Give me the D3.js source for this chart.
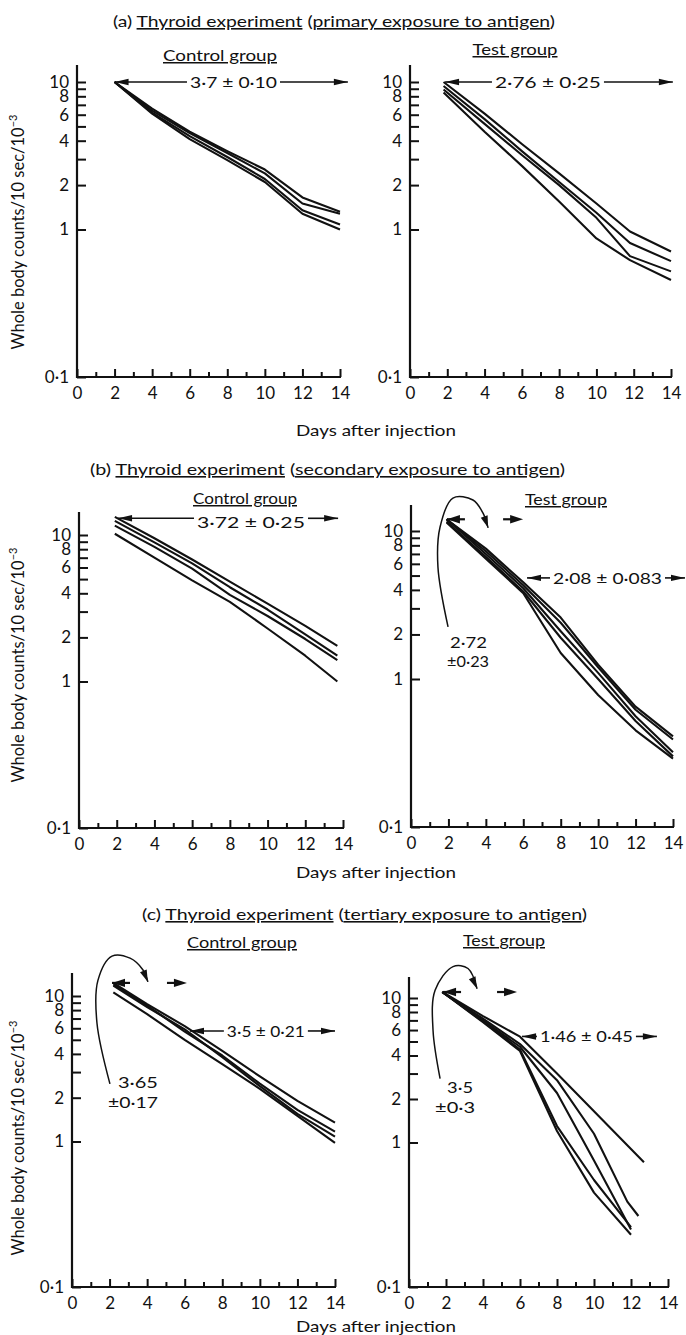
<!DOCTYPE html>
<html>
<head>
<meta charset="utf-8">
<script src="https://cdn.jsdelivr.net/npm/d3@7"></script>
<style>
  body { margin: 0; background: #fff; }
  svg { display: block; }
  text { font-family: Lato, "DejaVu Sans", sans-serif; fill: #111; }
  .tick text { font-size: 17px; }
  .title { font-size: 16px; }
  .group { font-size: 15px; }
  .note { font-size: 15px; }
  .ylab { font-size: 16.5px; }
  .xlab { font-size: 15px; }
</style>
</head>
<body>
<svg id="fig" width="686" height="1335"></svg>
<script>
// axis ticks
const dayTicks = [0, 2, 4, 6, 8, 10, 12, 14];
const minorDays = [1, 3, 5, 7, 9, 11, 13];
const countTicks = [0.1, 1, 2, 3, 4, 5, 6, 7, 8, 9, 10];
const countLabels = { 0.1: "0·1", 1: "1", 2: "2", 4: "4", 6: "6", 8: "8", 10: "10" };

// (a) primary exposure - whole body counts / 10 sec / 10^-3
const daysPrimaryControl = [2, 4, 6, 8, 10, 12, 14];
const primaryControl = [
  [10, 6.6, 4.6, 3.4, 2.55, 1.65, 1.32],
  [10, 6.4, 4.5, 3.3, 2.4, 1.5, 1.28],
  [10, 6.2, 4.3, 3.1, 2.2, 1.35, 1.08],
  [10, 6.1, 4.1, 2.95, 2.1, 1.28, 1.0]
];
const daysPrimaryTest = [1.8, 4, 6, 8, 10, 11.8, 14];
const primaryTest = [
  [10, 6.1, 3.8, 2.4, 1.5, 0.97, 0.71],
  [9.4, 5.6, 3.4, 2.1, 1.3, 0.81, 0.61],
  [8.9, 5.2, 3.2, 2.0, 1.2, 0.66, 0.52],
  [8.5, 4.6, 2.7, 1.55, 0.87, 0.62, 0.455]
];

// (b) secondary exposure
const daysSecondaryControl = [1.9, 4, 6, 8, 10, 12, 13.7];
const secondaryControl = [
  [13.3, 9.5, 6.8, 4.8, 3.4, 2.4, 1.75],
  [12.5, 8.9, 6.4, 4.4, 3.1, 2.1, 1.5],
  [11.6, 8.3, 5.9, 3.9, 2.8, 1.95, 1.4],
  [10.2, 7.0, 4.9, 3.5, 2.3, 1.5, 1.0]
];
const daysSecondaryTest = [1.9, 4, 6, 8, 10, 12, 14];
const secondaryTest = [
  [12, 7.6, 4.5, 2.6, 1.25, 0.65, 0.41],
  [12, 7.3, 4.3, 2.4, 1.2, 0.62, 0.39],
  [12, 7.0, 4.1, 2.1, 1.1, 0.56, 0.32],
  [11.6, 6.7, 3.9, 1.9, 1.0, 0.52, 0.30],
  [11.4, 6.5, 3.8, 1.5, 0.78, 0.45, 0.29]
];

// (c) tertiary exposure
const daysTertiaryControl = [2.2, 4, 6, 8, 10, 12, 14];
const tertiaryControl = [
  [12.3, 8.8, 6.2, 4.2, 2.8, 1.9, 1.35],
  [12.0, 8.6, 5.7, 3.9, 2.5, 1.65, 1.17],
  [11.8, 8.4, 5.9, 3.8, 2.4, 1.55, 1.08],
  [10.6, 7.5, 5.0, 3.4, 2.3, 1.5, 0.98]
];
const daysTertiaryTest1 = [1.8, 4, 6, 8, 12.7];
const tertiaryTest1 = [11, 7.5, 5.4, 3.0, 0.73];
const daysTertiaryTest2 = [1.8, 4, 6, 8, 10, 11.8, 12.4];
const tertiaryTest2 = [11, 7.2, 4.8, 2.7, 1.15, 0.39, 0.31];
const daysTertiaryTest = [1.8, 4, 6, 8, 10, 12];
const tertiaryTest = [
  [11, 7.0, 4.6, 2.2, 0.75, 0.25],
  [11, 6.8, 4.3, 1.2, 0.45, 0.23],
  [11, 6.9, 4.4, 1.3, 0.55, 0.26]
];

const svg = d3.select("#fig");
const ink = "#111";

function head(g, x, y, ang, L = 14, W = 3.2) {
  const c = Math.cos(ang), s = Math.sin(ang);
  const bx = x - L * c, by = y - L * s;
  const pts = [[x, y], [bx - W * s, by + W * c], [bx + W * s, by - W * c]];
  g.append("path").attr("d", "M" + pts.join("L") + "Z").attr("fill", ink);
}

function line(g, x1, y1, x2, y2, w = 1.6) {
  g.append("line").attr("x1", x1).attr("y1", y1).attr("x2", x2).attr("y2", y2)
    .attr("stroke", ink).attr("stroke-width", w);
}

function fitText(g, cls, x, y, w, parts, anchor = "start") {
  const t = g.append("text").attr("class", cls).attr("x", x).attr("y", y)
    .attr("text-anchor", anchor);
  if (w) t.attr("textLength", w).attr("lengthAdjust", "spacingAndGlyphs");
  parts.forEach(([s, u]) => {
    const sp = t.append("tspan").text(s);
    if (u) sp.attr("text-decoration", "underline");
  });
  return t;
}

function drawPanel(p) {
  const g = svg.append("g");
  const x = d3.scaleLinear().domain([0, 14]).range([p.left, p.right]);
  const y = d3.scaleLog().domain([0.1, 10]).range([p.y01, p.y10]);

  // x axis, ticks pointing up into the plot
  g.append("g").attr("transform", `translate(0,${p.y01})`)
    .call(d3.axisBottom(x).tickValues(dayTicks).tickSize(-8).tickSizeOuter(0).tickPadding(10))
    .call(a => a.select(".domain").remove());
  g.append("g").attr("transform", `translate(0,${p.y01})`)
    .call(d3.axisBottom(x).tickValues(minorDays).tickSize(-5).tickSizeOuter(0).tickFormat(""))
    .call(a => a.select(".domain").remove());
  // log y axis, ticks pointing right
  g.append("g").attr("transform", `translate(${p.left},0)`)
    .call(d3.axisLeft(y).tickValues(countTicks).tickSize(-9).tickSizeOuter(0).tickPadding(8)
      .tickFormat(v => countLabels[v] || ""))
    .call(a => a.select(".domain").remove());
  g.selectAll(".tick line").attr("stroke", ink).attr("stroke-width", 2);

  line(g, p.left, p.y01 + 1, p.left, p.top, 2.2);
  line(g, p.left - 1, p.y01, p.right + 1, p.y01, 2.2);

  const path = d3.line().x(d => x(d[0])).y(d => y(d[1]));
  p.series.forEach(([days, vals]) => {
    g.append("path").attr("d", path(d3.zip(days, vals)))
      .attr("fill", "none").attr("stroke", ink).attr("stroke-width", 2.1)
      .attr("stroke-linejoin", "round");
  });

  // group name
  fitText(g, "group", p.group.cx - p.group.w / 2, p.group.y, p.group.w, [[p.group.text, true]]);

  // half-life interval arrows, shaft broken by the value
  p.spans.forEach(s => {
    const x1 = x(s.d1), x2 = x(s.d2), yy = y(s.v), xc = x(s.c);
    const t1 = xc - s.w / 2 - 3, t2 = xc + s.w / 2 + 3;
    line(g, x1, yy, t1, yy);
    line(g, t2, yy, x2, yy);
    head(g, x1, yy, Math.PI);
    head(g, x2, yy, 0);
    fitText(g, "note", xc - s.w / 2, yy + (s.dy || 6), s.w, [[s.text]]);
  });

  // early component: curved pointer + short arrows
  if (p.early) {
    const e = p.early;
    const yy = y(e.v);
    line(g, x(e.d1), yy, x(e.d1) + 18, yy, 2.2);
    head(g, x(e.d1), yy, Math.PI, 13, 4.2);
    line(g, x(e.d2) - 20, yy, x(e.d2) - 8, yy, 2.2);
    head(g, x(e.d2), yy, 0, 13, 4.2);
    const pts = e.curve.map(([d, v]) => [x(d), y(v)]);
    g.append("path").attr("d", d3.line().curve(d3.curveCatmullRom)(pts))
      .attr("fill", "none").attr("stroke", ink).attr("stroke-width", 1.5);
    const a = pts[pts.length - 2], b = pts[pts.length - 1];
    head(g, b[0], b[1], Math.atan2(b[1] - a[1], b[0] - a[0]), 12, 3.6);
    const [sx, sy] = pts[0];
    fitText(g, "note", sx + e.t1[0], sy + e.t1[1], e.t1[2], [[e.text1]]);
    fitText(g, "note", sx + e.t2[0], sy + e.t2[1], e.t2[2], [[e.text2]]);
  }
}

const panels = [
  { left: 77, right: 340, y01: 377, y10: 82, top: 65,
    series: primaryControl.map(v => [daysPrimaryControl, v]),
    group: { text: "Control group", cx: 220, y: 61, w: 114 },
    spans: [{ d1: 2, d2: 14.42, v: 10, c: 8.33, w: 87, text: "3·7 ± 0·10" }] },
  { left: 410, right: 671, y01: 377, y10: 82, top: 65,
    series: primaryTest.map(v => [daysPrimaryTest, v]),
    group: { text: "Test group", cx: 515, y: 55, w: 85 },
    spans: [{ d1: 1.88, d2: 14.1, v: 10, c: 7.4, w: 106, text: "2·76 ± 0·25" }] },
  { left: 79, right: 343, y01: 828, y10: 535, top: 512,
    series: secondaryControl.map(v => [daysSecondaryControl, v]),
    group: { text: "Control group", cx: 245, y: 504, w: 104 },
    spans: [{ d1: 2.07, d2: 13.74, v: 13, c: 9.12, w: 108, text: "3·72 ± 0·25", dy: 10 }] },
  { left: 411, right: 673, y01: 827, y10: 531, top: 505,
    series: secondaryTest.map(v => [daysSecondaryTest, v]),
    group: { text: "Test group", cx: 566, y: 505, w: 82 },
    spans: [{ d1: 6.2, d2: 14.64, v: 4.82, c: 10.5, w: 109, text: "2·08 ± 0·083" }],
    early: { v: 12, d1: 1.92, d2: 5.99, text1: "2·72", text2: "±0·23",
      t1: [2, 21, 37], t2: [-1, 40, 42],
      curve: [[1.98, 2.25], [1.44, 5.7], [1.55, 10.6], [2.24, 16.7], [3.31, 16.2], [3.85, 13.2], [4.12, 10.5]] } },
  { left: 72, right: 335, y01: 1287, y10: 996, top: 973,
    series: tertiaryControl.map(v => [daysTertiaryControl, v]),
    group: { text: "Control group", cx: 242, y: 948, w: 110 },
    spans: [{ d1: 6.28, d2: 14, v: 5.75, c: 10.32, w: 78, text: "3·5 ± 0·21" }],
    early: { v: 12.3, d1: 2.13, d2: 6.12, text1: "3·65", text2: "±0·17",
      t1: [8, 4, 40], t2: [-2, 24, 50],
      curve: [[2.02, 2.49], [1.33, 6.5], [1.38, 12.8], [2.13, 18.8], [3.09, 18.2], [3.78, 15.1], [4.04, 12.5]] } },
  { left: 409, right: 668, y01: 1287, y10: 998, top: 977,
    series: [[daysTertiaryTest1, tertiaryTest1], [daysTertiaryTest2, tertiaryTest2]]
      .concat(tertiaryTest.map(v => [daysTertiaryTest, v])),
    group: { text: "Test group", cx: 504, y: 946, w: 82 },
    spans: [{ d1: 6.11, d2: 13.4, v: 5.42, c: 9.59, w: 93, text: "1·46 ± 0·45" }],
    early: { v: 11, d1: 1.84, d2: 5.84, text1: "3·5", text2: "±0·3",
      t1: [7, 14, 26], t2: [-5, 34, 40],
      curve: [[1.68, 2.77], [1.30, 5.95], [1.41, 11.3], [2.38, 16.5], [3.19, 16.0], [3.68, 11.6]] } }
];

panels.forEach(drawPanel);

// experiment titles
fitText(svg, "title", 113, 27, 442, [["(a) "], ["Thyroid experiment", true], [" ("], ["primary exposure to antigen", true], [")"]]);
fitText(svg, "title", 90, 475, 475, [["(b) "], ["Thyroid experiment", true], [" ("], ["secondary exposure to antigen", true], [")"]]);
fitText(svg, "title", 142, 920, 445, [["(c) "], ["Thyroid experiment", true], ["   ("], ["tertiary exposure to antigen", true], [")"]]);

// y axis titles (one per row)
[232, 665, 1138].forEach(cy => {
  const t = svg.append("text").attr("class", "ylab")
    .attr("transform", `translate(24,${cy}) rotate(-90)`).attr("text-anchor", "middle");
  t.append("tspan").text("Whole body counts/10 sec/10");
  t.append("tspan").attr("font-size", "11px").attr("dy", "-7").text("−3");
});

// x axis titles
[436, 878, 1332].forEach(yb => {
  svg.append("text").attr("class", "xlab").attr("x", 376).attr("y", yb)
    .attr("text-anchor", "middle").attr("textLength", 160).attr("lengthAdjust", "spacingAndGlyphs")
    .text("Days after injection");
});
</script>
</body>
</html>
